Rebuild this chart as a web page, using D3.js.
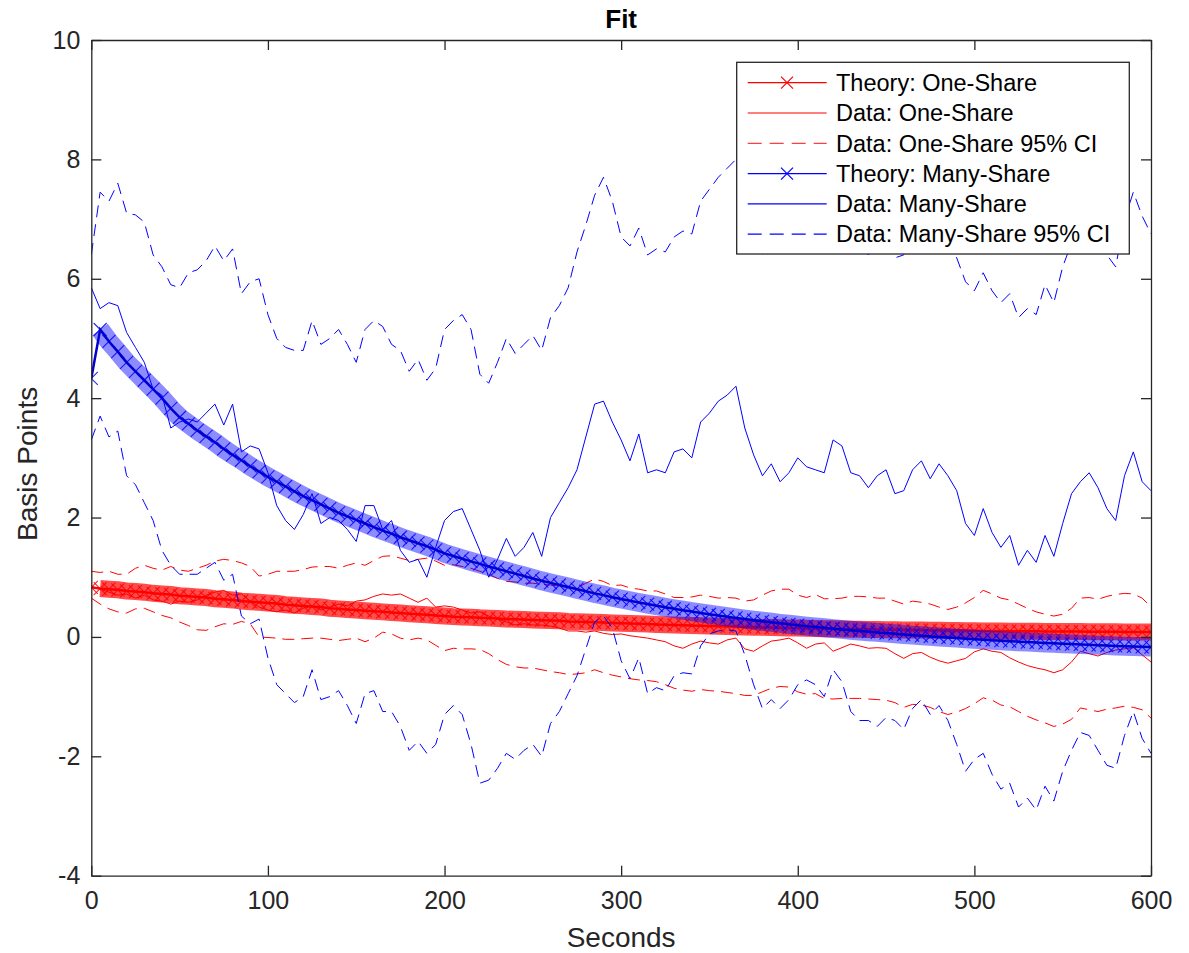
<!DOCTYPE html>
<html>
<head>
<meta charset="utf-8">
<script src="https://cdn.jsdelivr.net/npm/d3@7"></script>
<style>
  body { margin: 0; background: #fff; }
  svg { display: block; font-family: "Liberation Sans", Arial, Helvetica, sans-serif; }
</style>
</head>
<body>
<div id="chart"></div>
<script>
// sample times (seconds), one value every 5 s
const seconds = d3.range(0, 601, 5);

const theoryOne = [0.83,0.81,0.8,0.79,0.77,0.76,0.75,0.73,0.72,0.71,
  0.69,0.68,0.67,0.66,0.64,0.63,0.62,0.6,0.59,0.58,
  0.57,0.56,0.54,0.53,0.52,0.51,0.5,0.48,0.47,0.46,
  0.45,0.44,0.43,0.42,0.41,0.4,0.39,0.38,0.37,0.36,
  0.35,0.34,0.335,0.33,0.32,0.315,0.31,0.3,0.295,0.29,
  0.285,0.28,0.275,0.27,0.26,0.255,0.25,0.245,0.24,0.235,
  0.23,0.225,0.22,0.215,0.21,0.205,0.2,0.196,0.192,0.188,
  0.184,0.18,0.176,0.172,0.168,0.164,0.16,0.157,0.154,0.151,
  0.148,0.145,0.142,0.139,0.136,0.133,0.13,0.128,0.126,0.124,
  0.122,0.12,0.118,0.116,0.114,0.112,0.11,0.108,0.106,0.104,
  0.102,0.1,0.099,0.098,0.097,0.096,0.095,0.094,0.093,0.092,
  0.091,0.09,0.089,0.088,0.087,0.086,0.085,0.084,0.083,0.082,
  0.081];

const dataOne = [0.85,0.8,0.75,0.7,0.72,0.65,0.7,0.62,0.6,0.55,
  0.6,0.58,0.62,0.7,0.75,0.78,0.7,0.72,0.6,0.5,
  0.45,0.42,0.45,0.4,0.48,0.52,0.45,0.5,0.55,0.52,
  0.6,0.62,0.68,0.72,0.7,0.72,0.65,0.58,0.65,0.5,
  0.52,0.5,0.45,0.4,0.42,0.35,0.3,0.25,0.2,0.22,
  0.2,0.2,0.18,0.15,0.1,0.1,0.08,0.1,0.06,0.04,
  0.05,0.02,0.0,-0.02,-0.05,-0.08,-0.15,-0.19,-0.12,-0.07,
  -0.1,-0.12,-0.05,-0.02,-0.2,-0.24,-0.15,-0.07,-0.05,-0.02,
  -0.1,-0.19,-0.12,-0.1,-0.24,-0.18,-0.12,-0.15,-0.19,-0.18,
  -0.19,-0.28,-0.36,-0.28,-0.26,-0.34,-0.4,-0.44,-0.4,-0.36,
  -0.25,-0.2,-0.24,-0.26,-0.35,-0.42,-0.48,-0.52,-0.55,-0.6,
  -0.55,-0.42,-0.24,-0.28,-0.32,-0.26,-0.22,-0.2,-0.18,-0.3,
  -0.42];

const upperOne = [1.1,1.08,1.1,1.05,1.05,1.15,1.2,1.15,1.12,1.18,
  1.12,1.1,1.15,1.2,1.27,1.3,1.28,1.24,1.18,1.02,
  1.05,1.1,1.1,1.1,1.13,1.17,1.18,1.18,1.15,1.2,
  1.24,1.2,1.28,1.35,1.36,1.32,1.28,1.3,1.32,1.27,
  1.2,1.21,1.18,1.15,1.1,1.05,0.98,0.93,0.92,0.9,
  0.9,0.88,0.87,0.85,0.83,0.82,0.9,0.97,0.93,0.86,
  0.87,0.82,0.8,0.77,0.77,0.72,0.66,0.66,0.67,0.7,
  0.68,0.65,0.66,0.65,0.6,0.62,0.7,0.77,0.8,0.8,
  0.7,0.66,0.71,0.64,0.64,0.65,0.68,0.68,0.67,0.65,
  0.65,0.6,0.55,0.6,0.58,0.55,0.5,0.46,0.5,0.57,
  0.66,0.78,0.72,0.65,0.62,0.55,0.48,0.42,0.38,0.35,
  0.38,0.48,0.65,0.66,0.63,0.68,0.71,0.73,0.72,0.65,
  0.5];

const lowerOne = [0.65,0.55,0.47,0.42,0.4,0.47,0.48,0.42,0.36,0.32,
  0.25,0.19,0.12,0.11,0.17,0.22,0.21,0.26,0.22,0.0,
  -0.01,-0.02,-0.04,-0.04,-0.03,-0.02,-0.02,-0.04,-0.06,-0.04,
  -0.02,-0.08,-0.02,0.08,0.05,-0.02,-0.05,-0.02,-0.05,-0.14,
  -0.23,-0.19,-0.2,-0.2,-0.21,-0.28,-0.38,-0.46,-0.5,-0.52,
  -0.52,-0.55,-0.58,-0.6,-0.63,-0.62,-0.6,-0.55,-0.6,-0.64,
  -0.67,-0.7,-0.72,-0.73,-0.75,-0.8,-0.86,-0.89,-0.91,-0.88,
  -0.9,-0.91,-0.93,-0.95,-0.98,-0.98,-0.92,-0.86,-0.83,-0.84,
  -0.92,-0.96,-0.95,-1.03,-1.04,-1.03,-1.03,-1.03,-1.04,-1.05,
  -1.06,-1.1,-1.18,-1.13,-1.14,-1.18,-1.25,-1.3,-1.26,-1.2,
  -1.12,-1.02,-1.06,-1.14,-1.17,-1.25,-1.33,-1.39,-1.44,-1.5,
  -1.46,-1.38,-1.19,-1.22,-1.25,-1.21,-1.19,-1.16,-1.18,-1.22,
  -1.36];

const theoryMany = [4.33,5.15,4.95,4.78,4.6,4.45,4.3,4.15,4.0,3.83,
  3.68,3.57,3.46,3.36,3.26,3.15,3.05,2.96,2.86,2.77,
  2.68,2.6,2.52,2.44,2.36,2.29,2.22,2.15,2.08,2.02,
  1.96,1.9,1.84,1.78,1.73,1.67,1.62,1.57,1.52,1.46,
  1.4,1.355,1.31,1.266,1.223,1.18,1.14,1.1,1.06,1.02,
  0.98,0.94,0.905,0.87,0.835,0.8,0.765,0.73,0.7,0.665,
  0.635,0.605,0.577,0.55,0.523,0.497,0.472,0.448,0.425,0.402,
  0.38,0.359,0.338,0.318,0.299,0.28,0.262,0.245,0.228,0.212,
  0.196,0.181,0.167,0.153,0.139,0.126,0.113,0.1,0.088,0.076,
  0.064,0.052,0.041,0.03,0.019,0.009,-0.001,-0.011,-0.02,-0.029,
  -0.038,-0.047,-0.055,-0.063,-0.071,-0.079,-0.086,-0.093,-0.1,-0.107,
  -0.114,-0.12,-0.126,-0.132,-0.138,-0.144,-0.15,-0.155,-0.16,-0.165,
  -0.17];

const dataMany = [5.85,5.5,5.6,5.55,5.1,4.85,4.6,4.15,4.05,3.5,
  3.6,3.65,3.6,3.75,3.9,3.55,3.9,3.1,3.2,3.15,
  2.75,2.2,1.95,1.8,2.05,2.4,1.9,2.0,1.95,1.8,
  1.6,2.2,2.2,1.8,1.95,1.45,1.25,1.3,1.0,1.5,
  1.95,2.1,2.15,1.8,1.45,1.0,1.3,1.65,1.35,1.5,
  1.75,1.35,2.0,2.25,2.5,2.8,3.35,3.9,3.95,3.6,
  3.3,2.95,3.4,2.75,2.8,2.75,3.1,3.15,3.0,3.6,
  3.75,3.95,4.05,4.2,3.5,3.05,2.7,2.9,2.6,2.75,
  3.0,2.85,2.8,2.75,3.3,3.2,2.75,2.7,2.5,2.7,
  2.8,2.4,2.45,2.8,2.95,2.65,2.9,2.7,2.45,1.9,
  1.7,2.15,1.75,1.5,1.7,1.2,1.45,1.25,1.7,1.35,
  1.9,2.4,2.6,2.75,2.5,2.15,1.95,2.7,3.1,2.6,
  2.45];

const upperMany = [6.4,7.45,7.3,7.6,7.1,7.07,6.95,6.4,6.2,5.9,
  5.85,6.1,6.15,6.3,6.55,6.3,6.5,5.75,5.95,6.0,
  5.4,5.0,4.85,4.8,4.8,5.3,4.9,5.0,5.15,4.9,
  4.6,5.15,5.3,5.2,4.9,4.8,4.45,4.65,4.3,4.5,
  5.15,5.3,5.4,5.15,4.4,4.25,4.6,5.0,4.75,4.9,
  5.05,4.8,5.35,5.55,5.85,6.45,6.9,7.4,7.7,7.3,
  6.7,6.55,6.85,6.4,6.5,6.45,6.7,6.8,6.75,7.3,
  7.5,7.7,7.85,8.0,7.4,6.9,6.4,6.7,6.45,6.65,
  6.9,6.75,6.7,6.65,7.2,7.1,6.65,6.6,6.4,6.6,
  6.7,6.35,6.4,6.75,6.9,6.6,6.85,6.65,6.35,5.95,
  5.8,6.1,5.8,5.6,5.75,5.35,5.5,5.4,5.9,5.6,
  6.2,6.6,6.85,7.0,6.7,6.4,6.2,7.0,7.45,7.05,
  6.75];

const lowerMany = [3.3,3.7,3.35,3.45,2.7,2.55,2.25,1.95,1.45,1.2,
  1.05,1.05,1.05,1.15,1.25,0.95,1.05,0.35,0.22,0.3,
  -0.35,-0.8,-0.95,-1.1,-1.0,-0.55,-1.05,-1.0,-0.9,-1.15,
  -1.45,-0.95,-0.9,-1.25,-1.25,-1.5,-1.9,-1.75,-1.95,-1.8,
  -1.3,-1.15,-1.3,-1.8,-2.45,-2.4,-2.2,-1.95,-2.05,-1.9,
  -1.8,-2.0,-1.45,-1.25,-0.95,-0.65,-0.2,0.25,0.35,0.15,
  -0.4,-0.7,-0.35,-0.95,-0.85,-0.9,-0.65,-0.6,-0.62,-0.15,
  0.05,0.1,0.12,0.1,-0.3,-0.8,-1.2,-1.05,-1.2,-1.05,
  -0.8,-0.72,-0.8,-1.0,-0.55,-0.75,-1.25,-1.4,-1.4,-1.5,
  -1.35,-1.4,-1.55,-1.2,-1.05,-1.3,-1.15,-1.4,-1.8,-2.25,
  -2.05,-1.95,-2.3,-2.55,-2.45,-2.85,-2.7,-2.9,-2.5,-2.75,
  -2.25,-1.9,-1.6,-1.65,-1.9,-2.15,-2.2,-1.65,-1.25,-1.7,
  -1.95];

const xTicks = [0, 100, 200, 300, 400, 500, 600];
const yTicks = [-4, -2, 0, 2, 4, 6, 8, 10];
const legendLabels = ["Theory: One-Share", "Data: One-Share", "Data: One-Share 95% CI",
  "Theory: Many-Share", "Data: Many-Share", "Data: Many-Share 95% CI"];

const width = 1189, height = 953;
const plotLeft = 91.3, plotRight = 1151, plotTop = 40, plotBottom = 875.7;
const axisColor = "#262626";

const svg = d3.select("#chart").append("svg")
  .attr("width", width)
  .attr("height", height);

const x = d3.scaleLinear().domain([0, 600]).range([plotLeft, plotRight]);
const y = d3.scaleLinear().domain([-4, 10]).range([plotBottom, plotTop]);

svg.append("clipPath").attr("id", "plotclip")
  .append("rect")
    .attr("x", plotLeft).attr("y", plotTop)
    .attr("width", plotRight - plotLeft).attr("height", plotBottom - plotTop);

const plot = svg.append("g").attr("clip-path", "url(#plotclip)");

const line = d3.line()
  .defined(d => d != null)
  .x((d, i) => x(seconds[i]))
  .y(d => y(d));

function drawLine(values, color, dashed) {
  plot.append("path")
    .datum(values)
    .attr("d", line)
    .attr("fill", "none")
    .attr("stroke", color)
    .attr("stroke-width", 1)
    .attr("stroke-dasharray", dashed ? "12,7" : null);
}

// theory: dense x markers on top of a haze band (the haze skips the lone first sample)
function drawTheory(values, color, bandOpacity, bandWidth, centerColor) {
  plot.append("path")
    .datum(values.map((v, i) => i === 0 ? null : v))
    .attr("d", line)
    .attr("fill", "none")
    .attr("stroke", color)
    .attr("stroke-opacity", bandOpacity)
    .attr("stroke-width", bandWidth)
    .attr("stroke-linecap", "butt");

  const s = 6.5;
  plot.append("g")
    .selectAll("path")
    .data(values)
    .join("path")
      .attr("d", (d, i) => {
        const cx = x(seconds[i]), cy = y(d);
        return `M${cx - s},${cy - s}L${cx + s},${cy + s}M${cx - s},${cy + s}L${cx + s},${cy - s}`;
      })
      .attr("stroke", color)
      .attr("stroke-width", 1.1)
      .attr("stroke-opacity", 0.85);

  plot.append("path")
    .datum(values)
    .attr("d", line)
    .attr("fill", "none")
    .attr("stroke", centerColor)
    .attr("stroke-width", 2.5);
}

drawTheory(theoryOne, "#ff0000", 0.7, 17, "#ff0000");
drawLine(dataOne, "#ff0000", false);
drawLine(upperOne, "#ff0000", true);
drawLine(lowerOne, "#ff0000", true);
drawTheory(theoryMany, "#0000ff", 0.45, 19, "#0000d0");
drawLine(dataMany, "#0000ff", false);
drawLine(upperMany, "#0000ff", true);
drawLine(lowerMany, "#0000ff", true);

// axes: box with inward ticks on all four sides
function styleAxis(g) {
  g.selectAll(".domain").attr("stroke", axisColor).attr("stroke-width", 1.3);
  g.selectAll(".tick line").attr("stroke", axisColor).attr("stroke-width", 1.3);
  g.selectAll(".tick text").attr("fill", axisColor).style("font-size", "25px")
    .style("font-family", '"Liberation Sans", Arial, Helvetica, sans-serif');
}

const plainFormat = d => String(d);

svg.append("g")
  .attr("transform", `translate(0,${plotBottom})`)
  .call(d3.axisBottom(x).tickValues(xTicks).tickFormat(plainFormat)
    .tickSizeInner(-10).tickSizeOuter(0).tickPadding(16))
  .call(styleAxis);

svg.append("g")
  .attr("transform", `translate(0,${plotTop})`)
  .call(d3.axisTop(x).tickValues(xTicks).tickSizeInner(-10).tickSizeOuter(0).tickFormat(""))
  .call(styleAxis);

svg.append("g")
  .attr("transform", `translate(${plotLeft},0)`)
  .call(d3.axisLeft(y).tickValues(yTicks).tickFormat(plainFormat)
    .tickSizeInner(-10).tickSizeOuter(0).tickPadding(11))
  .call(styleAxis);

svg.append("g")
  .attr("transform", `translate(${plotRight},0)`)
  .call(d3.axisRight(y).tickValues(yTicks).tickSizeInner(-10).tickSizeOuter(0).tickFormat(""))
  .call(styleAxis);

// title and axis labels
svg.append("text")
  .attr("x", (plotLeft + plotRight) / 2).attr("y", 28)
  .attr("text-anchor", "middle")
  .attr("fill", "#000")
  .style("font-size", "26px").style("font-weight", "bold")
  .text("Fit");

svg.append("text")
  .attr("x", (plotLeft + plotRight) / 2).attr("y", 947)
  .attr("text-anchor", "middle")
  .attr("fill", axisColor)
  .style("font-size", "28px")
  .text("Seconds");

svg.append("text")
  .attr("transform", `translate(37,${(plotTop + plotBottom) / 2 + 6}) rotate(-90)`)
  .attr("text-anchor", "middle")
  .attr("fill", axisColor)
  .style("font-size", "28px")
  .text("Basis Points");

// legend
const legend = svg.append("g");
legend.append("rect")
  .attr("x", 736.7).attr("y", 62.3)
  .attr("width", 392.6).attr("height", 191.7)
  .attr("fill", "#fff")
  .attr("stroke", axisColor)
  .attr("stroke-width", 1.3);

const legendStyles = [
  {color: "#ff0000", dash: null, marker: true},
  {color: "#ff0000", dash: null, marker: false},
  {color: "#ff4040", dash: "14,8", marker: false},
  {color: "#0000ff", dash: null, marker: true},
  {color: "#0000ff", dash: null, marker: false},
  {color: "#0000ff", dash: "14,8", marker: false}
];

const rows = legend.selectAll("g.row")
  .data(legendLabels)
  .join("g")
    .attr("class", "row")
    .attr("transform", (d, i) => `translate(0,${82.7 + i * 30.3})`);

rows.append("line")
  .attr("x1", 747.7).attr("x2", 826.7)
  .attr("stroke", (d, i) => legendStyles[i].color)
  .attr("stroke-width", 1.2)
  .attr("stroke-dasharray", (d, i) => legendStyles[i].dash);

rows.each(function(d, i) {
  if (!legendStyles[i].marker) return;
  d3.select(this).append("path")
    .attr("d", "M781,-6L793,6M781,6L793,-6")
    .attr("stroke", legendStyles[i].color)
    .attr("stroke-width", 1.2);
});

rows.append("text")
  .attr("x", 836)
  .attr("dy", "0.35em")
  .attr("fill", "#000")
  .style("font-size", "23.5px")
  .text(d => d);
</script>
</body>
</html>
